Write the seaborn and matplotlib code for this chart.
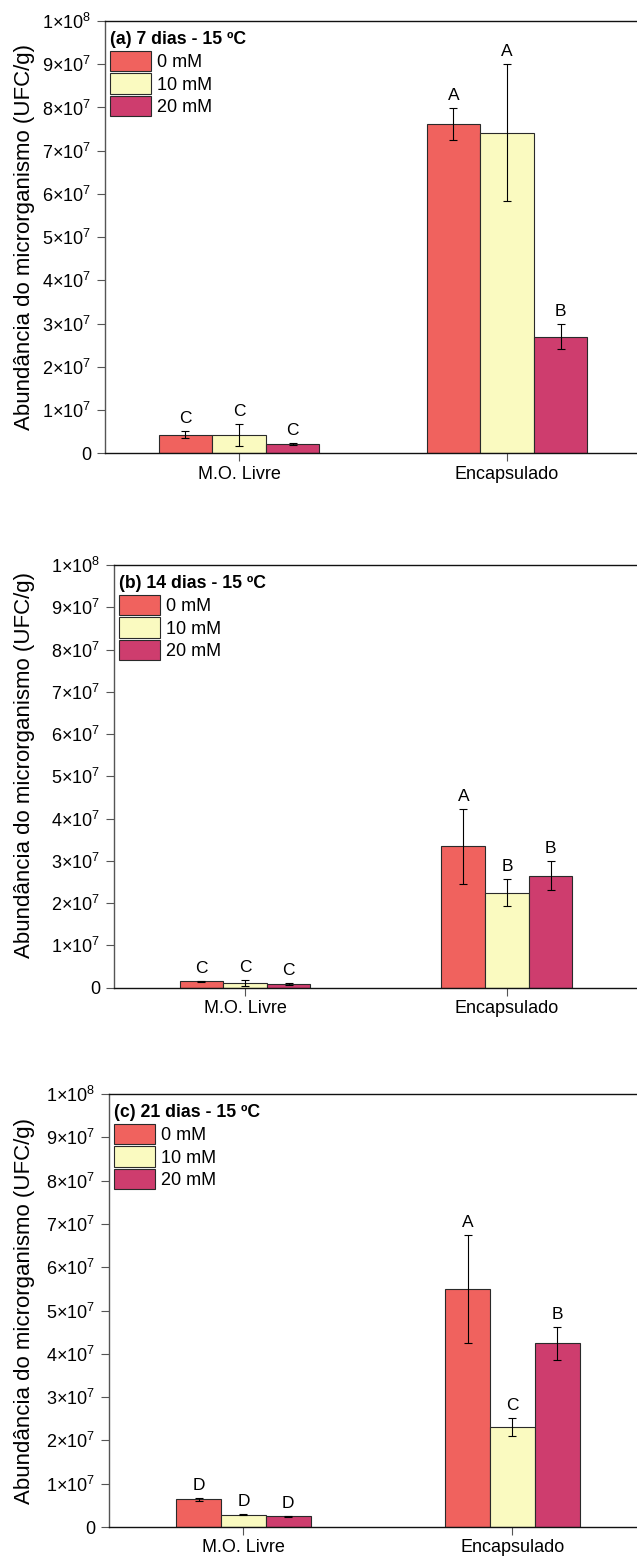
import matplotlib
matplotlib.use("Agg")
import numpy as np
import pandas as pd
import matplotlib.pyplot as plt
import seaborn as sns
from matplotlib.patches import Patch

# ---------------- data ----------------
grupos = ["M.O. Livre", "Encapsulado"]
concentracoes = ["0 mM", "10 mM", "20 mM"]
cores = ["#F0625E", "#FAFAC0", "#CE3D6E"]
titulos = ["(a) 7 dias - 15 ºC", "(b) 14 dias - 15 ºC", "(c) 21 dias - 15 ºC"]
y_rotulo = "Abundância do microrganismo (UFC/g)"
y_ticks = [0, 1e7, 2e7, 3e7, 4e7, 5e7, 6e7, 7e7, 8e7, 9e7, 1e8]
y_tick_labels = ["0"] + [r"$\mathregular{%d{\times}10^{%d}}$" % (k, 7) for k in range(1, 10)] + [r"$\mathregular{1{\times}10^{8}}$"]

# rows = concentration (0, 10, 20 mM); columns = group (M.O. Livre, Encapsulado)
media_7d = [[4.3e6, 7.62e7], [4.2e6, 7.42e7], [2.2e6, 2.70e7]]
erro_7d = [[0.75e6, 3.7e6], [2.6e6, 1.585e7], [0.2e6, 2.9e6]]
letras_7d = [["C", "A"], ["C", "A"], ["C", "B"]]

media_14d = [[1.5e6, 3.35e7], [1.2e6, 2.25e7], [0.9e6, 2.65e7]]
erro_14d = [[0.15e6, 0.887e7], [0.7e6, 0.32e7], [0.2e6, 0.34e7]]
letras_14d = [["C", "A"], ["C", "B"], ["C", "B"]]

media_21d = [[6.4e6, 5.50e7], [2.84e6, 2.31e7], [2.47e6, 4.24e7]]
erro_21d = [[0.4e6, 1.25e7], [0.1e6, 0.21e7], [0.15e6, 0.377e7]]
letras_21d = [["D", "A"], ["D", "C"], ["D", "B"]]

paineis = [
    (titulos[0], media_7d, erro_7d, letras_7d),
    (titulos[1], media_14d, erro_14d, letras_14d),
    (titulos[2], media_21d, erro_21d, letras_21d),
]

# ---------------- style ----------------
sns.set_style("ticks")
plt.rcParams["font.family"] = ["Liberation Sans", "DejaVu Sans"]
plt.rcParams["mathtext.fontset"] = "custom"
plt.rcParams["mathtext.rm"] = "Liberation Sans"
plt.rcParams["mathtext.it"] = "Liberation Sans:italic"
plt.rcParams["mathtext.bf"] = "Liberation Sans:bold"
plt.rcParams["text.color"] = "black"
plt.rcParams["axes.labelcolor"] = "black"
plt.rcParams["xtick.labelcolor"] = "black"
plt.rcParams["ytick.labelcolor"] = "black"

W, H = 637, 1559
fig = plt.figure(figsize=(W / 100, H / 100), dpi=100)

# axes boxes in pixels: left, right, top, bottom ; bar group width ; ylabel centre (axes frac)
caixas = [
    (105, 641, 21, 453.3, 0.6, 0.5),
    (114, 638, 565, 987.7, 0.5, 0.528),
    (109, 647, 1094, 1527, 0.5, 0.5),
]

for (titulo, media, erro, letras), (l, r, t, b, gw, yc) in zip(paineis, caixas):
    ax = fig.add_axes([l / W, 1 - b / H, (r - l) / W, (b - t) / H])
    linhas = []
    for i, c in enumerate(concentracoes):
        for j, g in enumerate(grupos):
            linhas.append({"grupo": g, "conc": c, "valor": media[i][j]})
    df = pd.DataFrame(linhas)
    sns.barplot(data=df, x="grupo", y="valor", hue="conc", order=grupos,
                hue_order=concentracoes, palette=cores, width=gw,
                errorbar=None, edgecolor="#2a2a2a", linewidth=0.8,
                saturation=1, legend=False, ax=ax)
    barras = list(ax.containers)
    for i, cont in enumerate(barras):
        for j, bar in enumerate(cont):
            x = bar.get_x() + bar.get_width() / 2
            h = bar.get_height()
            ax.errorbar(x, h, yerr=erro[i][j], fmt="none", ecolor="black",
                        elinewidth=0.8, capsize=2.8, capthick=0.8, zorder=5)
            ax.annotate(letras[i][j], (x, h + erro[i][j]), xytext=(0, 5.8),
                        textcoords="offset points", ha="center", va="baseline",
                        fontsize=12.5, color="black")

    ax.set_xlim(-0.5, 1.5)
    ax.set_ylim(0, 1e8)
    ax.set_yticks(y_ticks)
    ax.set_yticklabels(y_tick_labels)
    ax.set_xlabel("")
    ax.set_ylabel(y_rotulo, fontsize=16, color="black")
    ax.yaxis.set_label_coords((35 - l) / (r - l), yc)
    ax.tick_params(axis="y", direction="out", length=5.5, width=0.8,
                   color="#555555", labelsize=13, pad=4.3, labelcolor="black")
    ax.tick_params(axis="x", direction="out", length=5.5, width=0.8,
                   color="#555555", labelsize=13, pad=3.5, labelcolor="black")
    ax.spines["right"].set_visible(False)
    for s in ["top", "bottom"]:
        ax.spines[s].set_color("#111111")
        ax.spines[s].set_linewidth(1.0)
    ax.spines["left"].set_color("#555555")
    ax.spines["left"].set_linewidth(1.0)

    handles = [Patch(facecolor=c, edgecolor="#2a2a2a", linewidth=0.8) for c in cores]
    leg = ax.legend(handles, concentracoes, title=titulo, loc="upper left",
                    bbox_to_anchor=(0, 1 - 5 / (b - t)), borderaxespad=0,
                    borderpad=0.3, frameon=False, fontsize=13,
                    handlelength=2.25, handleheight=1.37, labelspacing=0.12,
                    handletextpad=0.33, alignment="left",
                    title_fontproperties={"weight": "bold", "size": 12.7})
    leg.get_title().set_color("black")
    for txt in leg.get_texts():
        txt.set_color("black")

fig.savefig("out.png", dpi=100)
